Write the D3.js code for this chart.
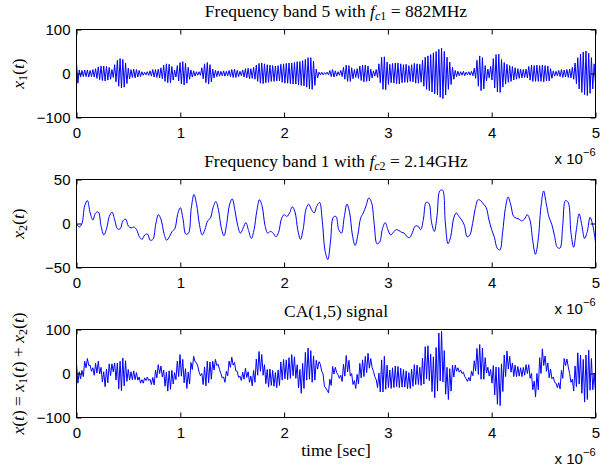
<!DOCTYPE html>
<html>
<head>
<meta charset="utf-8">
<script src="https://cdn.jsdelivr.net/npm/d3@7"></script>
<style>
body { margin: 0; background: #fff; }
.tick text, .unit { font-family: "Liberation Sans", Arial, sans-serif; font-size: 15px; fill: #000; }
.serif { font-family: "Liberation Serif", "Times New Roman", serif; font-size: 17.5px; fill: #000; }
</style>
</head>
<body>
<div id="chart"></div>
<script>
// values, time in microseconds (axis shows x 10^-6)
let timeTicks = [0, 1, 2, 3, 4, 5];
let x1Ticks = [-100, 0, 100];
let x2Ticks = [-50, 0, 50];
let sumTicks = [-100, 0, 100];

// band 5 signal: peak / trough of every carrier cycle
let x1Values = [
  23,-22, 8,-8, 7,-7, 8,-7, 8,-8, 7,-7, 9,-8, 11,-11, 15,-14, 17,-16,
  17,-17, 16,-15, 14,-13, 9,-9, 20,-19, 30,-29, 34,-33, 32,-31, 24,-23, 12,-12,
  9,-9, 10,-10, 9,-8, 7,-7, 4,-4, 3,-3, 4,-4, 6,-6, 9,-8, 9,-9,
  10,-10, 13,-12, 19,-18, 22,-21, 21,-21, 16,-15, 8,-8, 18,-17, 25,-24, 27,-26,
  23,-22, 14,-13, 8,-8, 6,-6, 4,-4, 4,-4, 13,-12, 22,-21, 25,-24, 20,-19,
  10,-10, 7,-7, 6,-6, 5,-5, 6,-6, 5,-5, 7,-7, 9,-9, 10,-9, 7,-7,
  5,-5, 8,-8, 11,-10, 12,-12, 11,-11, 14,-13, 19,-18, 23,-22, 24,-23, 22,-21,
  20,-20, 19,-18, 18,-18, 17,-17, 18,-17, 21,-20, 22,-22, 23,-22, 24,-23, 24,-24,
  25,-24, 27,-26, 27,-27, 29,-28, 32,-31, 36,-35, 36,-36, 28,-27, 10,-10, 3,-3,
  3,-3, 2,-2, 3,-3, 7,-7, 9,-8, 6,-6, 4,-4, 7,-7, 14,-13, 19,-18,
  18,-18, 13,-12, 9,-9, 11,-11, 17,-16, 19,-19, 19,-18, 17,-17, 10,-10, 6,-6,
  9,-9, 22,-21, 37,-36, 38,-37, 26,-25, 21,-21, 23,-22, 24,-23, 24,-24, 22,-21,
  20,-20, 21,-20, 18,-18, 20,-19, 23,-22, 22,-22, 21,-20, 30,-29, 37,-36, 40,-39,
  43,-42, 47,-46, 50,-49, 55,-54, 58,-57, 50,-49, 37,-36, 26,-25, 14,-13, 7,-7,
  5,-5, 4,-4, 5,-5, 3,-3, 4,-4, 5,-5, 12,-11, 30,-29, 40,-39, 36,-35,
  18,-17, 10,-10, 16,-15, 34,-33, 43,-42, 44,-43, 32,-31, 25,-24, 21,-20, 18,-18,
  16,-15, 13,-13, 11,-11, 10,-10, 9,-9, 10,-10, 16,-15, 19,-18, 18,-18, 19,-18,
  18,-18, 19,-19, 18,-17, 17,-17, 11,-11, 6,-6, 5,-5, 7,-7, 9,-9, 8,-8,
  9,-9, 10,-10, 14,-13, 24,-23, 36,-35, 44,-43, 49,-48, 51,-50, 46,-45, 36,-35,
  22,-21
];

// band 1 signal, one reading per carrier cycle of x1
let x2Values = [
  0, -4, 0, 20, 26, 12, 4, 12, 13, -3,
  -13, -6, 8, 13, 4, -6, -6, 3, 5, -3,
  -5, -4, -7, -15, -18, -13, -12, -19, -18, -1,
  10, 4, -11, -19, -15, -9, -6, 10, 18, 5,
  -12, -11, 17, 33, 21, -1, -13, -7, 3, 6,
  18, 25, 15, -5, -14, 0, 21, 28, 15, -2,
  -11, -5, 1, -8, -17, -7, 14, 27, 19, -2,
  -11, -9, -11, -15, -10, 5, 10, 8, 12, 19,
  13, -7, -18, -6, 16, 22, 16, 12, 20, 24,
  2, -31, -41, -20, 7, 8, -7, -11, 7, 22,
  12, -13, -25, -13, 6, 12, 20, 29, 24, -1,
  -23, -21, -6, 1, -7, -13, -10, -7, -8, -10,
  -11, -15, -16, -10, -3, -3, -7, 5, 24, 23,
  1, -9, 9, 37, 38, 2, -23, -15, 5, 12,
  8, 4, -2, -15, -13, 0, 17, 27, 26, 22,
  18, 4, -7, -16, -28, -30, -10, 17, 30, 21,
  8, 6, 5, 3, 5, 10, 4, -19, -35, -19,
  18, 37, 22, 7, -1, -14, -27, -28, -2, 26,
  24, -10, -27, -7, 11, -2, -17, -9, 7, -2,
  -21
];

function graph(id) {
    let width = 613, height = 470;
    let left = 76.5, right = 595.5, panelHeight = 88;
    let tMax = 5;

    let x1Data = x1Values.map((v, i) => ({ t: i * tMax / (x1Values.length - 1), v: v }));
    let x2Data = x2Values.map((v, i) => ({ t: i * tMax / (x2Values.length - 1), v: v }));
    // CA signal is the sum of both bands
    let sumData = x1Values.map((v, i) => ({ t: x1Data[i].t, v: v + x2Values[Math.floor(i / 2)] }));

    let panels = [
        { top: 29.5, data: x1Data, ticks: x1Ticks, domain: [-100, 100], curve: d3.curveLinear,
          title: ["Frequency band 5 with ", "c1", " = 882MHz"], ylabel: "x1" },
        { top: 179.5, data: x2Data, ticks: x2Ticks, domain: [-50, 50], curve: d3.curveCatmullRom,
          title: ["Frequency band 1 with ", "c2", " = 2.14GHz"], ylabel: "x2" },
        { top: 329.5, data: sumData, ticks: sumTicks, domain: [-100, 100], curve: d3.curveLinear,
          title: null, ylabel: "sum" }
    ];

    let svg = d3.select(id).append("svg")
        .attr("width", width)
        .attr("height", height);

    let x = d3.scaleLinear().domain([0, tMax]).range([left, right]);

    panels.forEach((p, n) => {
        let bottom = p.top + panelHeight;
        let y = d3.scaleLinear().domain(p.domain).range([bottom, p.top]);
        let g = svg.append("g");

        g.append("clipPath").attr("id", "clip" + n)
            .append("rect")
            .attr("x", left).attr("y", p.top)
            .attr("width", right - left).attr("height", panelHeight);

        let line = d3.line().x((d) => x(d.t)).y((d) => y(d.v)).curve(p.curve);
        g.append("path")
            .datum(p.data)
            .attr("clip-path", "url(#clip" + n + ")")
            .attr("fill", "none")
            .attr("stroke", "#0000ff")
            .attr("stroke-width", 1)
            .attr("d", line);

        // MATLAB style box with inward ticks on all four sides
        g.append("g").attr("transform", `translate(0,${bottom})`)
            .call(d3.axisBottom(x).tickValues(timeTicks).tickSizeInner(-5).tickSizeOuter(0).tickPadding(10).tickFormat(d3.format("d")));
        g.append("g").attr("transform", `translate(0,${p.top})`)
            .call(d3.axisTop(x).tickValues(timeTicks).tickSizeInner(-5).tickSizeOuter(0).tickFormat(""));
        g.append("g").attr("transform", `translate(${left},0)`)
            .call(d3.axisLeft(y).tickValues(p.ticks).tickSizeInner(-5).tickSizeOuter(0).tickPadding(6).tickFormat(d3.format("d")));
        g.append("g").attr("transform", `translate(${right},0)`)
            .call(d3.axisRight(y).tickValues(p.ticks).tickSizeInner(-5).tickSizeOuter(0).tickFormat(""));
        g.selectAll(".domain").remove();
        g.selectAll(".tick line").attr("stroke", "#000");

        g.append("rect")
            .attr("x", left).attr("y", p.top)
            .attr("width", right - left).attr("height", panelHeight)
            .attr("fill", "none").attr("stroke", "#000").attr("stroke-width", 1);

        // x 10^-6 multiplier
        let unit = g.append("text").attr("class", "unit")
            .attr("x", right).attr("y", bottom + 46)
            .attr("text-anchor", "end");
        unit.append("tspan").text("x 10");
        unit.append("tspan").attr("dy", -8).style("font-size", "11px").text("\u22126");

        if (p.title) {
            let title = g.append("text").attr("class", "serif")
                .attr("x", (left + right) / 2).attr("y", p.top - 12.5)
                .attr("text-anchor", "middle");
            title.append("tspan").text(p.title[0]);
            title.append("tspan").style("font-style", "italic").text("f");
            title.append("tspan").attr("dy", 3).style("font-size", "12px").style("font-style", "italic").text(p.title[1][0]);
            title.append("tspan").style("font-size", "12px").text(p.title[1][1]);
            title.append("tspan").attr("dy", -3).text(p.title[2]);
        } else {
            svg.append("text").attr("class", "serif")
                .attr("x", (left + right) / 2).attr("y", p.top - 12.5)
                .attr("text-anchor", "middle")
                .text("CA(1,5) signal");
        }

        let yl = g.append("text").attr("class", "serif")
            .attr("transform", `translate(24,${(p.top + bottom) / 2}) rotate(-90)`)
            .attr("text-anchor", "middle");
        let addVar = (sub) => {
            yl.append("tspan").style("font-style", "italic").text("x");
            if (sub) {
                yl.append("tspan").attr("dy", 3).style("font-size", "12px").text(sub);
                yl.append("tspan").attr("dy", -3).text("(");
            } else {
                yl.append("tspan").text("(");
            }
            yl.append("tspan").style("font-style", "italic").text("t");
            yl.append("tspan").text(")");
        };
        if (p.ylabel === "x1") addVar("1");
        else if (p.ylabel === "x2") addVar("2");
        else {
            addVar(null);
            yl.append("tspan").text(" = ");
            addVar("1");
            yl.append("tspan").text(" + ");
            addVar("2");
        }
    });

    svg.append("text").attr("class", "serif")
        .attr("x", (left + right) / 2).attr("y", 456)
        .attr("text-anchor", "middle")
        .text("time [sec]");
}

graph("#chart");
</script>
</body>
</html>
